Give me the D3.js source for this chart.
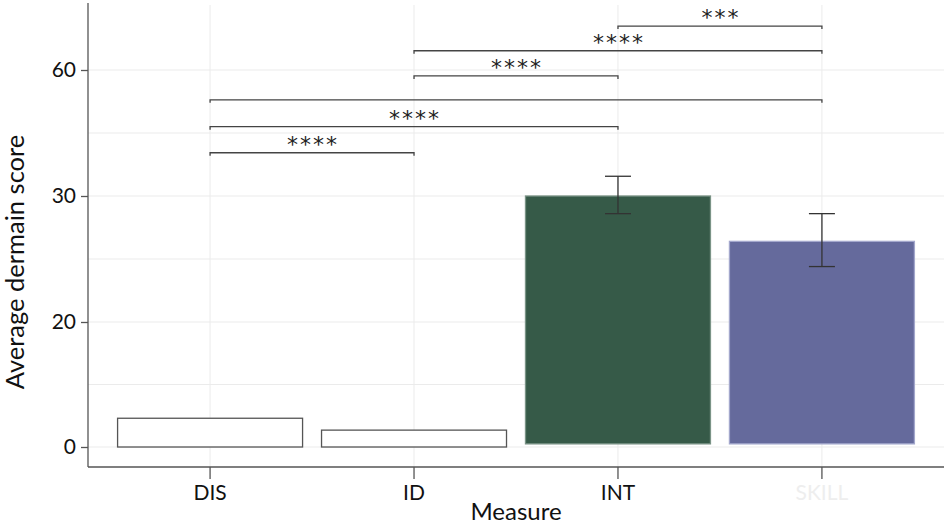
<!DOCTYPE html>
<html lang="en">
<head>
<meta charset="UTF-8">
<title>Average dermain score by measure</title>
<script src="https://d3js.org/d3.v7.min.js"></script>
<style>
  body { margin: 0; background: #fff; }
  text { font-family: Lato, "Open Sans", sans-serif; }
</style>
</head>
<body>
<svg width="944" height="527"></svg>
<script>
    // Data
    const categories = ["DIS", "ID", "INT", "SKILL"];
    const means = [4.6, 2.7, 30, 26.4];
    const barBase = [0, 0, 0.5, 0.5];
    const errLow = [null, null, 28.6, 24.4];
    const errHigh = [null, null, 34.7, 28.6];
    const barFill = ["#ffffff", "#ffffff", "#365a48", "#656a9c"];
    const barStroke = ["#555555", "#555555", "#7a9386", "#a3a7cc"];

    // y axis ticks (unevenly valued, evenly spaced)
    const yTicks = [0, 20, 30, 60];
    const yMinor = [10, 25, 45];
    const yTop = 76;

    // significance brackets
    const bracketFrom = ["DIS", "DIS", "DIS", "ID", "ID", "INT"];
    const bracketTo = ["ID", "INT", "SKILL", "INT", "SKILL", "SKILL"];
    const bracketY = [40.3, 46.5, 52.9, 58.6, 64.6, 70.5];
    const bracketLabel = ["****", "****", "", "****", "****", "***"];

    const svg = d3.select("svg");
    const margin = { top: 3, right: 0, bottom: 60, left: 88 };
    const width = +svg.attr("width") - margin.left - margin.right;
    const height = +svg.attr("height") - margin.top - margin.bottom;

    const g = svg.append("g")
        .attr("transform", `translate(${margin.left},${margin.top})`);

    const x = d3.scaleBand()
        .domain(categories)
        .range([20, 836])
        .paddingInner(0.093)
        .paddingOuter(0.047);

    // piecewise scale so the ticks sit evenly spaced
    const y = d3.scaleLinear()
        .domain(yTicks.concat([yTop]))
        .range([444, 319, 193, 67, 0]);

    // grid
    const grid = g.append("g");
    grid.selectAll(".hmaj")
        .data(yTicks.concat(yMinor))
        .enter().append("line")
        .attr("x1", 0).attr("x2", width)
        .attr("y1", d => y(d)).attr("y2", d => y(d))
        .attr("stroke", "#ebebeb").attr("stroke-width", 1);
    grid.selectAll(".v")
        .data(categories)
        .enter().append("line")
        .attr("x1", d => x(d) + x.bandwidth() / 2)
        .attr("x2", d => x(d) + x.bandwidth() / 2)
        .attr("y1", 2).attr("y2", height)
        .attr("stroke", "#ebebeb").attr("stroke-width", 1);

    // bars
    g.selectAll("rect.bar")
        .data(categories)
        .enter().append("rect")
        .attr("class", "bar")
        .attr("x", d => x(d))
        .attr("width", x.bandwidth())
        .attr("y", (d, i) => y(means[i]))
        .attr("height", (d, i) => y(barBase[i]) - y(means[i]))
        .attr("fill", (d, i) => barFill[i])
        .attr("stroke", (d, i) => barStroke[i])
        .attr("stroke-width", 1.3);

    // error bars
    const eb = categories.map((c, i) => ({ c, lo: errLow[i], hi: errHigh[i] }))
        .filter(d => d.lo !== null);
    const ebg = g.selectAll("g.err").data(eb).enter().append("g")
        .attr("stroke", "#333").attr("stroke-width", 1.3);
    ebg.append("line")
        .attr("x1", d => x(d.c) + x.bandwidth() / 2)
        .attr("x2", d => x(d.c) + x.bandwidth() / 2)
        .attr("y1", d => y(d.hi)).attr("y2", d => y(d.lo));
    ebg.append("line")
        .attr("x1", d => x(d.c) + x.bandwidth() / 2 - 13)
        .attr("x2", d => x(d.c) + x.bandwidth() / 2 + 13)
        .attr("y1", d => y(d.hi)).attr("y2", d => y(d.hi));
    ebg.append("line")
        .attr("x1", d => x(d.c) + x.bandwidth() / 2 - 13)
        .attr("x2", d => x(d.c) + x.bandwidth() / 2 + 13)
        .attr("y1", d => y(d.lo)).attr("y2", d => y(d.lo));

    // significance brackets
    const brackets = bracketFrom.map((f, i) => ({
        x1: x(f) + x.bandwidth() / 2,
        x2: x(bracketTo[i]) + x.bandwidth() / 2,
        yv: y(bracketY[i]),
        label: bracketLabel[i]
    }));
    const bg = g.selectAll("g.br").data(brackets).enter().append("g");
    bg.append("path")
        .attr("d", d => `M${d.x1},${d.yv + 3}V${d.yv}H${d.x2}V${d.yv + 3}`)
        .attr("fill", "none")
        .attr("stroke", "#444")
        .attr("stroke-width", 1.3);
    bg.append("text")
        .attr("x", d => (d.x1 + d.x2) / 2 + 1)
        .attr("y", d => d.yv - 1)
        .attr("text-anchor", "middle")
        .style("font-family", "'DejaVu Sans', sans-serif")
        .attr("font-size", "22px")
        .attr("letter-spacing", "2px")
        .attr("fill", "#222")
        .text(d => d.label);

    // axes
    const yAxis = g.append("g")
        .call(d3.axisLeft(y).tickValues(yTicks).tickSize(7).tickPadding(5).tickSizeOuter(0));
    yAxis.select(".domain").attr("stroke", "#555").attr("stroke-width", 1.3)
        .attr("d", `M0,0V${height}`);
    yAxis.selectAll(".tick line").attr("stroke", "#555").attr("stroke-width", 1.3);
    yAxis.selectAll(".tick text")
        .attr("font-size", "21px")
        .attr("fill", "#111")
        .style("font-family", "Lato, sans-serif");

    const xAxis = g.append("g")
        .attr("transform", `translate(0,${height})`)
        .call(d3.axisBottom(x).tickSize(12).tickPadding(6).tickSizeOuter(0));
    xAxis.select(".domain").attr("stroke", "#555").attr("stroke-width", 1.3)
        .attr("d", `M0,0H${width}`);
    xAxis.selectAll(".tick line").attr("stroke", "#555").attr("stroke-width", 1.3);
    xAxis.selectAll(".tick text")
        .attr("font-size", "21px")
        .attr("fill", (d, i) => d === "SKILL" ? "#eeeeee" : "#111")
        .style("font-family", "Lato, sans-serif");

    // axis titles
    g.append("text")
        .attr("x", 428)
        .attr("y", height + 53)
        .attr("text-anchor", "middle")
        .attr("font-size", "24px")
        .attr("fill", "#111")
        .text("Measure");

    g.append("text")
        .attr("transform", "rotate(-90)")
        .attr("x", -259)
        .attr("y", -64)
        .attr("text-anchor", "middle")
        .attr("font-size", "25.5px")
        .attr("fill", "#111")
        .text("Average dermain score");
</script>
</body>
</html>
